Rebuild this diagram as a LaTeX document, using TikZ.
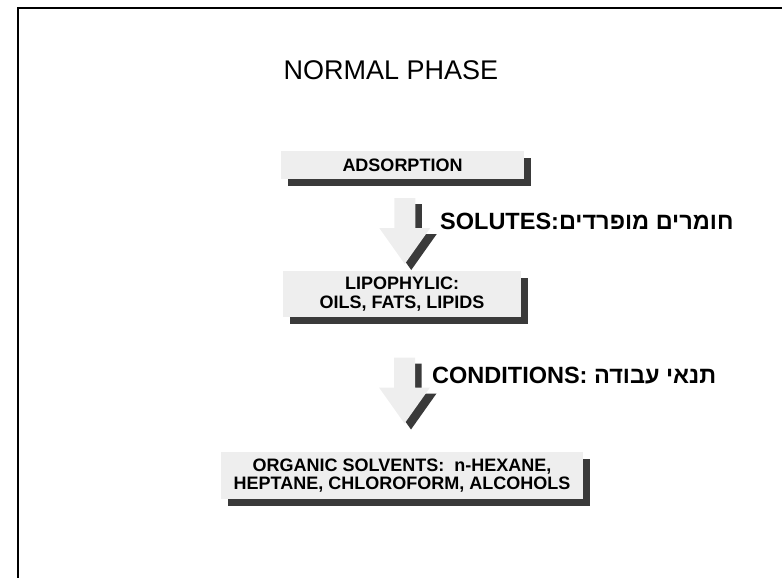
\documentclass[tikz,border=0pt]{standalone}
\usepackage{fontspec}
\setmainfont{Liberation Sans}
\newfontfamily\hebfont[Script=Hebrew]{Liberation Sans}
\TeXXeTstate=1
\usepackage{tikz}
\usetikzlibrary{shadows,calc}

\definecolor{boxgray}{RGB}{238,238,238}
\definecolor{shadegray}{RGB}{58,58,58}
\tikzset{
  stepbox/.style={fill=boxgray, inner sep=0pt, align=center,
    font=\bfseries\fontsize{18}{18.5}\selectfont,
    drop shadow={shadow xshift=6.5pt, shadow yshift=-6.5pt, fill=shadegray, opacity=1}},
  sidelabel/.style={anchor=base west, inner sep=0pt, font=\bfseries\fontsize{23.5}{25}\selectfont},
}

\begin{document}
\begin{tikzpicture}[x=1pt,y=-1pt]
\useasboundingbox (0,0) rectangle (782,578);
\draw[line width=2pt] (17.5,578) -- (17.5,8.5) -- (782,8.5);
\node[anchor=base, font=\fontsize{27}{30}\selectfont] (title) at (391,80) {NORMAL PHASE};
% boxes
\node[stepbox, minimum width=243pt, minimum height=28pt] (ads) at (402.5,165) {ADSORPTION};
\node[stepbox, minimum width=238pt, minimum height=46pt] (lip) at (402,294) {LIPOPHYLIC:\\OILS, FATS, LIPIDS};
\node[stepbox, minimum width=362pt, minimum height=47pt] (org) at (402,475.5) {ORGANIC SOLVENTS:\ \ n-HEXANE,\\HEPTANE, CHLOROFORM, ALCOHOLS};
% block arrows
\foreach \from/\to in {ads/lip, lip/org}
  \coordinate (\from-\to) at ($(\from.south)!0.5!(\to.north)+(2.5,6)$);
\foreach \c in {ads-lip, lip-org} {
  \fill[shadegray, shift={(\c)}, shift={(6.5,6)}] (-10.5,-33) -- (10.5,-33) -- (10.5,-3) -- (25.5,-3) -- (0,33) -- (-25.5,-3) -- (-10.5,-3) -- cycle;
  \fill[boxgray, shift={(\c)}] (-10.5,-33) -- (10.5,-33) -- (10.5,-3) -- (25.5,-3) -- (0,33) -- (-25.5,-3) -- (-10.5,-3) -- cycle;
}
\node[sidelabel] (solutes) at (440,229) {SOLUTES:{\hebfont\beginR חומרים מופרדים\endR}};
\node[sidelabel] (cond) at (432,383) {CONDITIONS: {\hebfont\beginR תנאי עבודה\endR}};
\end{tikzpicture}
\end{document}
